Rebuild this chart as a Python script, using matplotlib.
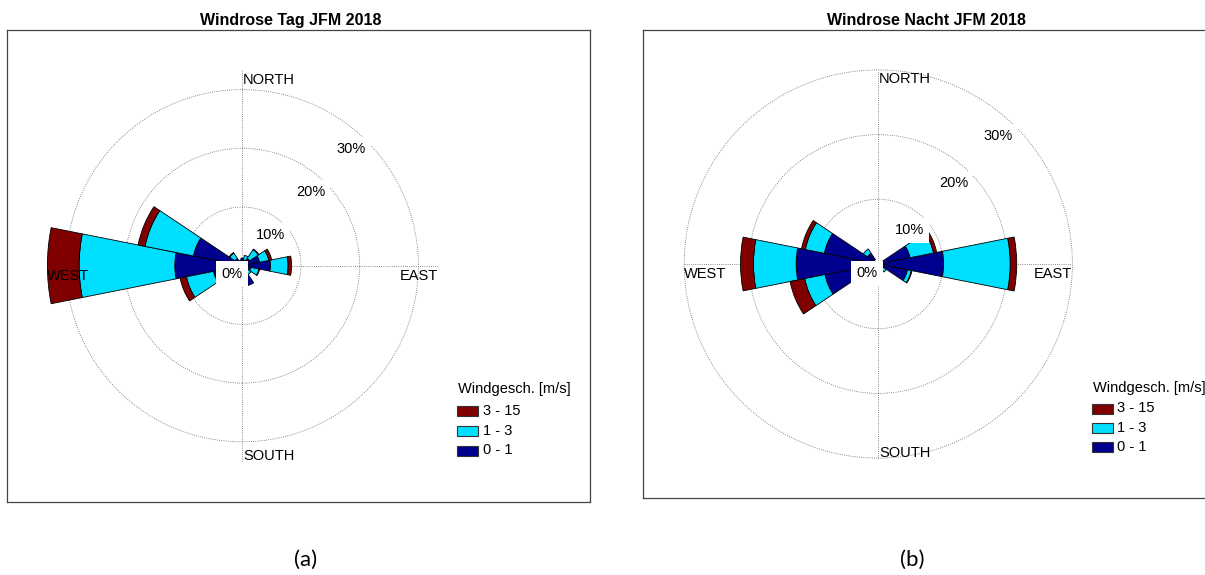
import numpy as np
import matplotlib.pyplot as plt
from matplotlib.patches import Wedge, Circle, Rectangle

plt.rcParams['font.family'] = ['Liberation Sans', 'DejaVu Sans']

# 16 Richtungen, Start bei Nord, im Uhrzeigersinn
richtungen = ['N', 'NNE', 'NE', 'ENE', 'E', 'ESE', 'SE', 'SSE',
              'S', 'SSW', 'SW', 'WSW', 'W', 'WNW', 'NW', 'NNW']
klassen = ['0 - 1', '1 - 3', '3 - 15']
farben = ['#00008f', '#00dfff', '#800000']

# Haeufigkeiten in % je Klasse (Tag)
tag_0_1 = [1.3, 1.0, 1.5, 3.0, 4.8, 1.5, 1.2, 3.5, 0, 0, 0, 5.0, 11.5, 8.5, 1.5, 1.0]
tag_1_3 = [0, 0.8, 1.8, 1.6, 3.0, 1.4, 0.6, 0, 0, 0, 0, 4.7, 16.3, 8.4, 1.1, 0]
tag_3_15 = [0, 0, 0.1, 0.5, 0.6, 0.1, 0, 0, 0, 0, 0, 1.1, 5.4, 1.2, 0.1, 0]

# Haeufigkeiten in % je Klasse (Nacht)
nacht_0_1 = [0, 0, 0, 5.0, 10.1, 4.6, 0.8, 0, 0, 0, 0, 8.4, 12.7, 8.5, 2.0, 0]
nacht_1_3 = [0, 0, 0, 3.7, 10.3, 0.6, 0.7, 0, 0, 0, 0, 3.2, 6.6, 3.0, 0.8, 0]
nacht_3_15 = [0, 0, 0, 0.5, 1.0, 0.1, 0, 0, 0, 0, 0, 2.3, 2.0, 0.6, 0, 0]

ringe = [10, 20, 30]
W, H = 1205, 575


def fx(px):
    return px / W


def fy(py):
    return 1 - py / H


def windrose(ax, daten, titel, cx, cy, skala, box, rmax, titel_x):
    # Achsgrenzen so, dass 1 % = skala Pixel in beiden Richtungen
    links, oben, rechts, unten = box
    ax.set_xlim((links - cx) / skala, (rechts - cx) / skala)
    ax.set_ylim((cy - unten) / skala, (cy - oben) / skala)
    ax.set_xticks([])
    ax.set_yticks([])
    for s in ax.spines.values():
        s.set_color('#444444')
        s.set_linewidth(0.9)

    dots = (0, (1, 1.6))
    for r in ringe:
        ax.add_patch(Circle((0, 0), r, fill=False, ec='#666666', lw=0.6, ls=dots, zorder=1))
    ax.plot([-rmax, rmax], [0, 0], color='#666666', lw=0.6, ls=dots, zorder=1)
    ax.plot([0, 0], [-rmax, rmax], color='#666666', lw=0.6, ls=dots, zorder=1)

    kum = np.cumsum(np.array(daten), axis=0)
    innen = np.full(len(richtungen), 0.8)
    for k in range(len(klassen)):
        for i in range(len(richtungen)):
            aussen = kum[k, i]
            if aussen - innen[i] <= 0.05:
                continue
            mitte = 90 - i * 22.5
            ax.add_patch(Wedge((0, 0), aussen, mitte - 11.25, mitte + 11.25,
                               width=aussen - innen[i], fc=farben[k], ec='black',
                               lw=0.6, zorder=2))
        innen = np.maximum(innen, kum[k])

    fs = 10.5
    ax.text(0.1, rmax - 0.4, 'NORTH', ha='left', va='top', fontsize=fs, zorder=4)
    ax.text(0.1, -rmax + 0.2, 'SOUTH', ha='left', va='baseline', fontsize=fs, zorder=4)
    ax.text(rmax, -0.5, 'EAST', ha='right', va='top', fontsize=fs, zorder=4)
    ax.text(-rmax, -0.5, 'WEST', ha='left', va='top', fontsize=fs, zorder=4)

    for r in ringe:
        rr = r - 2.9
        ax.text(rr * np.sin(np.radians(43)), rr * np.cos(np.radians(43)), f'{r}%',
                ha='center', va='center', fontsize=fs, zorder=5,
                bbox=dict(boxstyle='square,pad=0.35', fc='white', ec='none'))
    ax.text(-1.75, -1.45, '0%', ha='center', va='center', fontsize=fs, zorder=5,
            bbox=dict(boxstyle='square,pad=0.4', fc='white', ec='none'))

    ax.text(titel_x, 1 + 5 / (unten - oben), titel, transform=ax.transAxes,
            ha='center', va='baseline', fontsize=11.5, fontweight='bold')


def legende(fig, x, y_titel, zeilen, x_text):
    fig.text(fx(x), fy(y_titel), 'Windgesch. [m/s]', ha='left', va='center', fontsize=10.5)
    for k, yz in zip(range(len(klassen) - 1, -1, -1), zeilen):
        fig.add_artist(Rectangle((fx(x - 1), fy(yz + 5)), 21 / W, 10 / H,
                                 transform=fig.transFigure, fc=farben[k],
                                 ec='#333333', lw=0.8))
        fig.text(fx(x_text), fy(yz), klassen[k], ha='left', va='center', fontsize=10.5)


fig = plt.figure(figsize=(W / 100, H / 100), dpi=100)

box1 = (7, 30, 590, 502)
box2 = (643, 30, 1209, 498)
ax1 = fig.add_axes([fx(box1[0]), fy(box1[3]), (box1[2] - box1[0]) / W, (box1[3] - box1[1]) / H])
ax2 = fig.add_axes([fx(box2[0]), fy(box2[3]), (box2[2] - box2[0]) / W, (box2[3] - box2[1]) / H])

windrose(ax1, [tag_0_1, tag_1_3, tag_3_15], 'Windrose Tag JFM 2018',
         242.3, 265.7, 5.87, box1, 33.3, (290.9 - 7) / 583)
windrose(ax2, [nacht_0_1, nacht_1_3, nacht_3_15], 'Windrose Nacht JFM 2018',
         878.3, 264.0, 6.47, box2, 30.0, 0.5)

legende(fig, 458.3, 389, [411, 431, 450.5], 482.7)
legende(fig, 1092.7, 388, [408.5, 428, 447], 1116.7)

fig.text(fx(306), fy(560), '(a)', ha='center', va='center', fontsize=16, family=['Lato', 'DejaVu Sans'])
fig.text(fx(912), fy(560), '(b)', ha='center', va='center', fontsize=16, family=['Lato', 'DejaVu Sans'])

fig.savefig('out.png', dpi=100)
